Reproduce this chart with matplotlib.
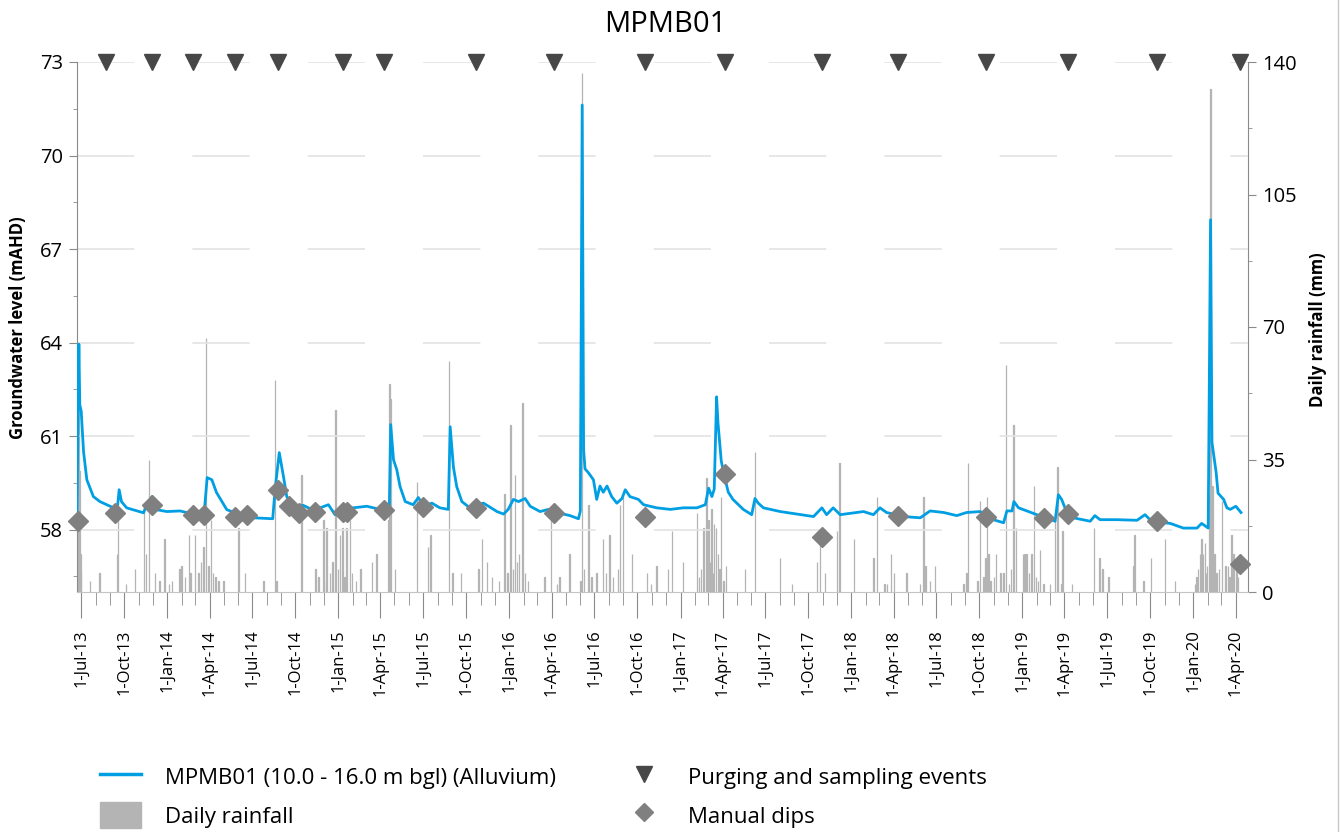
import numpy as np
import pandas as pd
import matplotlib
matplotlib.use('Agg')
import matplotlib.pyplot as plt
import matplotlib.dates as mdates
from matplotlib.ticker import FixedLocator, FuncFormatter
from matplotlib.lines import Line2D
from matplotlib.patches import Patch

# --- groundwater level (mAHD)
gw_dates = ['2013-06-22', '2013-06-26', '2013-06-28', '2013-07-01', '2013-07-06', '2013-07-13',
            '2013-07-27', '2013-08-10', '2013-09-08', '2013-09-16', '2013-09-20', '2013-09-25',
            '2013-10-06', '2013-11-11', '2013-11-18', '2013-11-29', '2013-12-09', '2013-12-31',
            '2014-01-28', '2014-02-25', '2014-03-21', '2014-03-27', '2014-04-06', '2014-04-16',
            '2014-05-08', '2014-06-05', '2014-07-04', '2014-08-14', '2014-08-19', '2014-08-28',
            '2014-09-06', '2014-09-13', '2014-09-27', '2014-10-18', '2014-11-09', '2014-12-11',
            '2014-12-25', '2015-01-05', '2015-02-02', '2015-03-03', '2015-03-31', '2015-04-20',
            '2015-04-23', '2015-04-29', '2015-05-06', '2015-05-13', '2015-05-24', '2015-06-10',
            '2015-06-21', '2015-07-02', '2015-07-20', '2015-08-06', '2015-08-24', '2015-08-28',
            '2015-09-04', '2015-09-11', '2015-09-22', '2015-10-09', '2015-11-07', '2015-11-18',
            '2015-12-06', '2015-12-20', '2015-12-30', '2016-01-10', '2016-01-21', '2016-02-04',
            '2016-02-15', '2016-03-07', '2016-03-25', '2016-04-12', '2016-04-26', '2016-05-10',
            '2016-05-28', '2016-06-01', '2016-06-05', '2016-06-08', '2016-06-11', '2016-06-18',
            '2016-06-29', '2016-07-06', '2016-07-13', '2016-07-20', '2016-07-28', '2016-08-07',
            '2016-08-18', '2016-08-29', '2016-09-05', '2016-09-15', '2016-10-03', '2016-10-14',
            '2016-11-11', '2016-12-10', '2017-01-07', '2017-02-05', '2017-02-23', '2017-03-02',
            '2017-03-09', '2017-03-14', '2017-03-19', '2017-03-22', '2017-03-29', '2017-04-05',
            '2017-04-13', '2017-04-23', '2017-05-15', '2017-06-02', '2017-06-09', '2017-06-16',
            '2017-06-27', '2017-08-02', '2017-09-06', '2017-10-12', '2017-10-30', '2017-11-09',
            '2017-11-23', '2017-12-08', '2018-01-27', '2018-02-17', '2018-03-03', '2018-03-17',
            '2018-04-22', '2018-05-28', '2018-06-18', '2018-07-17', '2018-08-14', '2018-09-04',
            '2018-10-03', '2018-10-31', '2018-11-22', '2018-11-29', '2018-12-10', '2018-12-14',
            '2018-12-24', '2019-01-14', '2019-02-01', '2019-02-22', '2019-03-12', '2019-03-19',
            '2019-03-26', '2019-04-06', '2019-04-20', '2019-05-26', '2019-06-05', '2019-06-16',
            '2019-07-22', '2019-09-03', '2019-09-20', '2019-10-04', '2019-11-13', '2019-12-11',
            '2020-01-09', '2020-01-19', '2020-02-02', '2020-02-07', '2020-02-10', '2020-02-19',
            '2020-02-23', '2020-03-06', '2020-03-13', '2020-03-20', '2020-04-01', '2020-04-12']
gw_level = [58.6, 63.95, 62.0, 61.8, 60.5, 59.6,
            59.06, 58.9, 58.7, 58.65, 59.28, 58.9,
            58.7, 58.54, 58.8, 59.06, 58.64, 58.58,
            58.6, 58.5, 58.6, 59.67, 59.6, 59.19,
            58.64, 58.48, 58.38, 58.35, 59.28, 60.47,
            59.7, 59.06, 58.7, 58.78, 58.62, 58.8,
            58.48, 58.7, 58.7, 58.75, 58.65, 58.65,
            61.37, 60.24, 59.92, 59.38, 58.9, 58.8,
            59.03, 58.75, 58.85, 58.7, 58.65, 61.3,
            60.0, 59.38, 58.9, 58.7, 58.85, 58.75,
            58.58, 58.5, 58.65, 58.97, 58.9, 59.0,
            58.75, 58.58, 58.65, 58.6, 58.5, 58.45,
            58.35, 58.6, 71.62, 60.56, 59.95, 59.83,
            59.6, 58.97, 59.4, 59.2, 59.4, 59.06,
            58.85, 59.0, 59.28, 59.06, 58.97, 58.8,
            58.7, 58.65, 58.7, 58.7, 58.8, 59.33,
            59.06, 59.3, 62.26, 61.43, 60.2, 59.7,
            59.2, 58.97, 58.65, 58.48, 59.0, 58.85,
            58.7, 58.58, 58.5, 58.42, 58.7, 58.48,
            58.7, 58.48, 58.58, 58.48, 58.7, 58.55,
            58.42, 58.38, 58.6, 58.55, 58.45, 58.55,
            58.58, 58.32, 58.22, 58.6, 58.6, 58.9,
            58.7, 58.58, 58.48, 58.38, 58.27, 59.12,
            58.97, 58.55, 58.38, 58.27, 58.45, 58.32,
            58.32, 58.3, 58.48, 58.27, 58.2, 58.05,
            58.05, 58.2, 58.05, 67.94, 60.8, 59.83,
            59.17, 58.97, 58.7, 58.65, 58.75, 58.55]

# --- daily rainfall (mm)
rain_dates = ['2013-06-25', '2013-06-27', '2013-06-29', '2013-07-01', '2013-07-20', '2013-08-09',
              '2013-09-15', '2013-09-17', '2013-10-05', '2013-10-24', '2013-11-12', '2013-11-16',
              '2013-11-23', '2013-12-06', '2013-12-15', '2013-12-26', '2014-01-05', '2014-01-11',
              '2014-01-27', '2014-01-31', '2014-02-08', '2014-02-16', '2014-02-19', '2014-03-01',
              '2014-03-08', '2014-03-14', '2014-03-19', '2014-03-25', '2014-03-30', '2014-04-04',
              '2014-04-09', '2014-04-14', '2014-04-20', '2014-05-01', '2014-06-02', '2014-06-16',
              '2014-07-25', '2014-08-19', '2014-08-22', '2014-10-14', '2014-11-13', '2014-11-20',
              '2014-11-30', '2014-12-01', '2014-12-07', '2014-12-14', '2014-12-20', '2014-12-26',
              '2015-01-01', '2015-01-05', '2015-01-10', '2015-01-14', '2015-01-19', '2015-01-26',
              '2015-01-30', '2015-02-08', '2015-02-17', '2015-03-14', '2015-03-24', '2015-04-18',
              '2015-04-20', '2015-04-23', '2015-05-02', '2015-06-18', '2015-07-12', '2015-07-17',
              '2015-08-26', '2015-09-02', '2015-09-20', '2015-10-28', '2015-11-04', '2015-11-15',
              '2015-11-25', '2015-12-10', '2015-12-22', '2015-12-28', '2016-01-04', '2016-01-09',
              '2016-01-14', '2016-01-18', '2016-01-22', '2016-01-29', '2016-02-04', '2016-02-10',
              '2016-03-16', '2016-03-30', '2016-04-12', '2016-04-18', '2016-05-09', '2016-06-01',
              '2016-06-05', '2016-06-09', '2016-06-18', '2016-06-25', '2016-07-06', '2016-07-19',
              '2016-07-26', '2016-08-02', '2016-08-10', '2016-08-20', '2016-08-25', '2016-08-31',
              '2016-09-19', '2016-10-21', '2016-10-30', '2016-11-11', '2016-12-05', '2016-12-14',
              '2017-01-06', '2017-02-05', '2017-02-10', '2017-02-14', '2017-02-19', '2017-02-25',
              '2017-03-02', '2017-03-05', '2017-03-08', '2017-03-11', '2017-03-14', '2017-03-18',
              '2017-03-22', '2017-03-25', '2017-03-29', '2017-04-03', '2017-04-08', '2017-05-19',
              '2017-06-09', '2017-08-02', '2017-08-27', '2017-10-20', '2017-10-26', '2017-11-05',
              '2017-12-01', '2017-12-07', '2018-01-07', '2018-02-17', '2018-02-25', '2018-03-13',
              '2018-03-18', '2018-03-26', '2018-04-02', '2018-04-29', '2018-05-28', '2018-06-04',
              '2018-06-08', '2018-06-18', '2018-06-28', '2018-08-28', '2018-09-04', '2018-09-07',
              '2018-09-27', '2018-10-03', '2018-10-10', '2018-10-14', '2018-10-17', '2018-10-21',
              '2018-10-25', '2018-11-02', '2018-11-06', '2018-11-15', '2018-11-22', '2018-11-27',
              '2018-12-03', '2018-12-08', '2018-12-13', '2018-12-19', '2019-01-03', '2019-01-06',
              '2019-01-10', '2019-01-15', '2019-01-21', '2019-01-26', '2019-01-30', '2019-02-03',
              '2019-02-08', '2019-02-15', '2019-03-01', '2019-03-12', '2019-03-17', '2019-03-26',
              '2019-03-28', '2019-04-17', '2019-06-03', '2019-06-15', '2019-06-21', '2019-07-04',
              '2019-08-26', '2019-08-29', '2019-09-17', '2019-10-03', '2019-11-02', '2019-11-23',
              '2020-01-05', '2020-01-08', '2020-01-11', '2020-01-16', '2020-01-19', '2020-01-22',
              '2020-01-26', '2020-01-28', '2020-01-31', '2020-02-04', '2020-02-07', '2020-02-11',
              '2020-02-15', '2020-02-20', '2020-02-25', '2020-03-02', '2020-03-10', '2020-03-15',
              '2020-03-18', '2020-03-23', '2020-03-27', '2020-04-02', '2020-04-06']
rain_mm = [52, 32, 10, 5, 3, 5,
           10, 21, 2, 6, 23, 10,
           35, 5, 3, 14, 2, 3,
           6, 7, 4, 15, 5, 15,
           5, 8, 12, 67, 7, 19,
           5, 4, 3, 3, 17, 5,
           3, 56, 3, 31, 6, 4,
           19, 3, 17, 5, 8, 48,
           6, 15, 17, 4, 17, 19,
           5, 3, 6, 8, 10, 19,
           55, 51, 6, 29, 12, 15,
           61, 5, 5, 6, 14, 8,
           4, 3, 26, 5, 44, 6,
           31, 8, 10, 50, 5, 3,
           4, 19, 2, 4, 10, 3,
           137, 6, 23, 4, 5, 14,
           5, 15, 4, 6, 23, 25,
           10, 5, 2, 7, 6, 16,
           8, 21, 4, 6, 17, 30,
           19, 8, 22, 5, 18, 17,
           10, 6, 25, 3, 7, 6,
           37, 9, 2, 8, 15, 5,
           16, 34, 14, 9, 25, 2,
           2, 10, 5, 5, 2, 25,
           7, 3, 7, 2, 5, 34,
           3, 24, 4, 9, 25, 10,
           3, 4, 10, 5, 5, 60,
           2, 6, 44, 17, 10, 10,
           10, 5, 10, 28, 4, 3,
           11, 2, 2, 19, 33, 2,
           16, 2, 17, 9, 6, 4,
           7, 15, 3, 9, 14, 3,
           2, 4, 6, 10, 14, 10,
           13, 5, 7, 26, 133, 28,
           10, 5, 6, 24, 7, 7,
           4, 15, 10, 6, 4]

# --- purging / sampling events and manual dips
purge_dates = ['2013-08-23', '2013-11-30', '2014-02-25', '2014-05-26', '2014-08-26', '2015-01-12',
               '2015-04-09', '2015-10-23', '2016-04-06', '2016-10-18', '2017-04-06', '2017-10-31',
               '2018-04-11', '2018-10-16', '2019-04-09', '2019-10-16', '2020-04-10']
dip_dates = ['2013-06-25', '2013-09-12', '2013-11-30', '2014-02-25', '2014-03-21', '2014-05-26',
             '2014-06-20', '2014-08-26', '2014-09-18', '2014-10-10', '2014-11-13', '2015-01-12',
             '2015-01-20', '2015-04-09', '2015-07-01', '2015-10-23', '2016-04-06', '2016-10-18',
             '2017-04-06', '2017-10-31', '2018-04-11', '2018-10-16', '2019-02-17', '2019-04-09',
             '2019-10-16', '2020-04-10']
dip_level = [58.29, 58.54, 58.80, 58.48, 58.48, 58.42,
             58.48, 59.28, 58.77, 58.54, 58.58, 58.58,
             58.58, 58.64, 58.74, 58.71, 58.54, 58.42,
             59.79, 57.78, 58.45, 58.42, 58.38, 58.51,
             58.29, 56.91]

left_ticks = [58, 61, 64, 67, 70, 73]
left_minor = [56.5, 59.5, 62.5, 65.5, 68.5, 71.5]
right_ticks = [0, 35, 70, 105, 140]
right_minor = [17.5, 52.5, 87.5, 122.5]
x_start, x_end = '2013-06-22', '2020-04-27'

blue = '#009fe3'
rain_col = '#b4b4b4'
axis_col = '#8a8a8a'

plt.rcParams['font.family'] = ['Open Sans', 'DejaVu Sans']

fig = plt.figure(figsize=(13.4, 8.32), dpi=100)
W, H = 1340, 832
ax = fig.add_axes([77 / W, 1 - 592 / H, (1248 - 77) / W, (592 - 62) / H])
ax2 = ax.twinx()
ax.set_zorder(ax2.get_zorder() + 1)
ax.patch.set_visible(False)

gw_d = pd.to_datetime(gw_dates)
rain_d = pd.to_datetime(rain_dates)
purge_d = pd.to_datetime(purge_dates)
dip_d = pd.to_datetime(dip_dates)

#--① rainfall bars on the right axis
ax2.bar(rain_d, rain_mm, width=1.0, color=rain_col, edgecolor=rain_col, linewidth=0.9)
ax2.set_ylim(right_ticks[0], right_ticks[-1])

#--② groundwater line, dips and events on the left axis
ax.plot(gw_d, gw_level, color=blue, lw=2.0, zorder=3)
ax.plot(dip_d, dip_level, 'D', ms=10, color='#808080', zorder=4, clip_on=False)
ax.set_ylim(56, left_ticks[-1])
ax.plot(purge_d, np.full(len(purge_d), ax.get_ylim()[1]), 'v', ms=12,
        color='#474747', zorder=5, clip_on=False)
ax.set_xlim(pd.Timestamp(x_start), pd.Timestamp(x_end))

#--③ axes styling
ax.yaxis.set_major_locator(FixedLocator(left_ticks))
ax.yaxis.set_minor_locator(FixedLocator(left_minor))
ax2.yaxis.set_major_locator(FixedLocator(right_ticks))
ax2.yaxis.set_minor_locator(FixedLocator(right_minor))
ax.yaxis.grid(True, which='major', color='#e3e3e3', lw=1.2, linestyle=(0, (34.4, 34.8)))
ax.set_axisbelow(True)

ax.xaxis.set_major_locator(mdates.MonthLocator(bymonth=[1, 4, 7, 10]))
ax.xaxis.set_minor_locator(mdates.MonthLocator())
ax.xaxis.set_major_formatter(FuncFormatter(
    lambda v, pos: '{}-{}'.format(mdates.num2date(v).day, mdates.num2date(v).strftime('%b-%y'))))

for a in (ax, ax2):
    a.spines['top'].set_visible(False)
ax.spines['right'].set_visible(False)
ax2.spines['left'].set_visible(False)
ax2.spines['bottom'].set_visible(False)
ax.spines['left'].set_color(axis_col)
ax2.spines['right'].set_color(axis_col)
ax.spines['bottom'].set_color('#c4c4c4')

ax.tick_params(axis='y', which='major', length=6, color=axis_col, labelsize=14.5, pad=4)
ax.tick_params(axis='y', which='minor', length=3, color=axis_col)
ax2.tick_params(axis='y', which='major', length=6, color=axis_col, labelsize=14.5, pad=4)
ax2.tick_params(axis='y', which='minor', length=3, color=axis_col)
ax.tick_params(axis='x', which='major', length=19, color=axis_col, labelsize=12,
               labelrotation=90, pad=8)
ax.tick_params(axis='x', which='minor', length=9, color=axis_col)

#--④ texts
fig.text(665 / W, 1 - 25 / H, 'MPMB01', ha='center', va='center', fontsize=21)
fig.text(18 / W, 1 - 328 / H, 'Groundwater level (mAHD)', rotation=90, ha='center',
         va='center', fontsize=12, fontweight='bold')
fig.text(1318 / W, 1 - 330 / H, 'Daily rainfall (mm)', rotation=90, ha='center',
         va='center', fontsize=12, fontweight='bold')
# thin border on the right edge of the picture
fig.add_artist(Line2D([1338 / W, 1338 / W], [0, 1], color='#c8c8c8', lw=1,
                      transform=fig.transFigure))

#--⑤ legend in two blocks
leg_font = dict(family=['Open Sans', 'DejaVu Sans'], size=16)
h1 = [Line2D([], [], color=blue, lw=2.5), Patch(color=rain_col)]
l1 = ['MPMB01 (10.0 - 16.0 m bgl) (Alluvium)', 'Daily rainfall']
h2 = [Line2D([], [], ls='none', marker='v', ms=12, color='#474747'),
      Line2D([], [], ls='none', marker='D', ms=9, color='#808080')]
l2 = ['Purging and sampling events', 'Manual dips']
kw = dict(loc='upper left', frameon=False, prop=leg_font, handlelength=1.85, handleheight=1.4,
          handletextpad=1.08, labelspacing=0.57, borderpad=0, borderaxespad=0)
fig.legend(h1, l1, bbox_to_anchor=(100 / W, 1 - 764 / H), **kw)
fig.legend(h2, l2, bbox_to_anchor=(623 / W, 1 - 764 / H), **kw)

fig.savefig('out.png', dpi=100)
